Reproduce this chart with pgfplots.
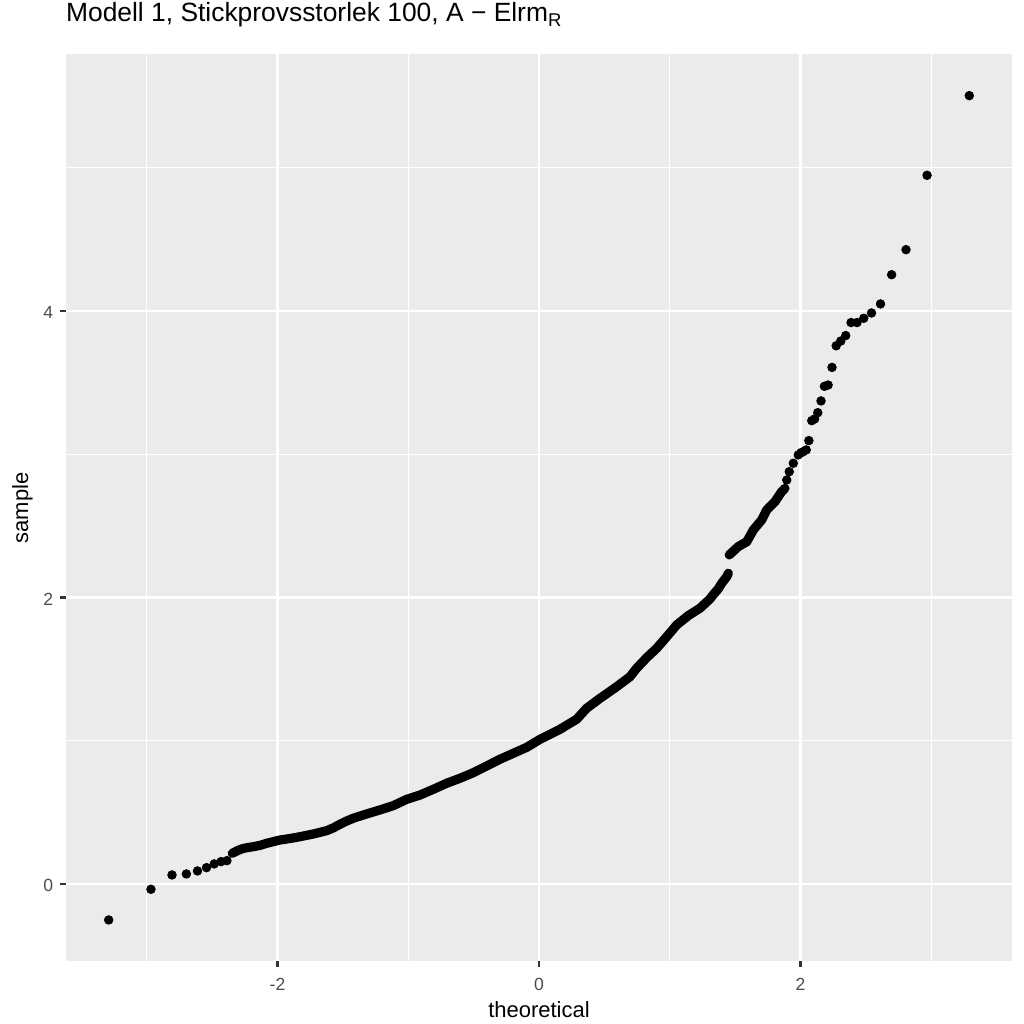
\documentclass[border=0pt]{standalone}
\usepackage{fontspec}
\setmainfont{Liberation Sans}
\usepackage{pgfplots}
\pgfplotsset{compat=1.18}
\definecolor{panel}{HTML}{EBEBEB}
\definecolor{gray30}{HTML}{4D4D4D}
\definecolor{gray20}{HTML}{333333}

\begin{document}
\begin{tikzpicture}
\fill[white] (-32.85pt,-31.4pt) rectangle (479.15pt,480.6pt);
\begin{axis}[
  at={(0,0)}, anchor=south west,
  scale only axis, width=473.3pt, height=453.4pt,
  xmin=-3.62, xmax=3.62, ymin=-0.539, ymax=5.791,
  axis background/.style={fill=panel},
  axis line style={draw=none},
  xtick={-2,0,2}, ytick={0,2,4},
  minor xtick={-3,-1,1,3}, minor ytick={1,3,5},
  grid=both,
  major grid style={white, line width=1.07pt},
  minor grid style={white, line width=0.53pt},
  tick align=outside, major tick length=2.75pt, minor tick length=0pt,
  tick style={gray20, line width=1.07pt},
  tick pos=left,
  ticklabel style={font=\fontsize{8.8}{10}\selectfont, text=gray30},
  xticklabel style={yshift=-2pt},
  yticklabel style={yshift=-0.8pt},
  /pgf/number format/assume math mode=true,
  title={Modell 1, Stickprovsstorlek 100, A − Elrm\textsubscript{R}},
  title style={at={(0,1.0226)}, anchor=base west, inner sep=0pt,
    font=\fontsize{13.2}{15}\selectfont},
  xlabel={theoretical},
  xlabel style={at={(0.5,-0.0626)}, anchor=base, inner sep=0pt,
    font=\fontsize{11}{13}\selectfont},
  ylabel={sample},
  ylabel style={at={(-0.0398,0.5)}, anchor=base, inner sep=0pt,
    font=\fontsize{11}{13}\selectfont},
]
% lower tail
\addplot[only marks, mark=*, mark size=2.15pt, black] coordinates {
  (-3.291,-0.251) (-2.968,-0.037) (-2.807,0.063) (-2.697,0.070)
  (-2.612,0.091) (-2.543,0.114) (-2.484,0.140) (-2.432,0.156) (-2.387,0.163)
};
% dense band, lower part (points overlap into a band)
\addplot[black, line width=4.6pt, line cap=round, line join=round] coordinates {
  (-2.346,0.214) (-2.308,0.232) (-2.273,0.245) (-2.241,0.252) (-2.211,0.257)
  (-2.185,0.260) (-2.132,0.270) (-2.083,0.284) (-2.030,0.296) (-1.981,0.307)
  (-1.900,0.318) (-1.828,0.330) (-1.726,0.349) (-1.624,0.372) (-1.570,0.393)
  (-1.522,0.417) (-1.470,0.440) (-1.420,0.459) (-1.318,0.489) (-1.216,0.517)
  (-1.114,0.547) (-1.012,0.591) (-0.910,0.621) (-0.808,0.661) (-0.706,0.703)
  (-0.604,0.738) (-0.502,0.777) (-0.400,0.824) (-0.298,0.871) (-0.197,0.912)
  (-0.094,0.954) (0.008,1.010) (0.161,1.080) (0.288,1.150) (0.365,1.227)
  (0.467,1.296) (0.594,1.377) (0.696,1.447) (0.747,1.506) (0.824,1.580)
  (0.900,1.645) (0.977,1.726) (1.053,1.808) (1.140,1.872) (1.231,1.925)
  (1.308,1.990) (1.333,2.020) (1.371,2.060) (1.397,2.099) (1.436,2.145)
  (1.448,2.169)
};
% dense band, after the jump at 1.45
\addplot[black, line width=4.6pt, line cap=round, line join=round] coordinates {
  (1.455,2.297) (1.524,2.355) (1.589,2.389) (1.639,2.471) (1.703,2.541)
  (1.742,2.611) (1.805,2.669) (1.856,2.739) (1.881,2.762)
};
% upper tail
\addplot[only marks, mark=*, mark size=2.15pt, black] coordinates {
  (1.895,2.820) (1.914,2.878) (1.945,2.937) (1.983,2.995) (2.004,3.010)
  (2.021,3.018) (2.044,3.030) (2.064,3.095) (2.086,3.234) (2.108,3.246)
  (2.132,3.290) (2.157,3.372) (2.183,3.474) (2.211,3.483) (2.241,3.606)
  (2.273,3.757) (2.308,3.790) (2.346,3.828) (2.387,3.919) (2.432,3.919)
  (2.484,3.949) (2.543,3.986) (2.612,4.049) (2.697,4.253) (2.807,4.428)
  (2.968,4.947) (3.291,5.503)
};
\end{axis}
\pgfresetboundingbox
\path (-32.85pt,-31.4pt) rectangle (479.15pt,480.6pt);
\end{tikzpicture}
\end{document}
